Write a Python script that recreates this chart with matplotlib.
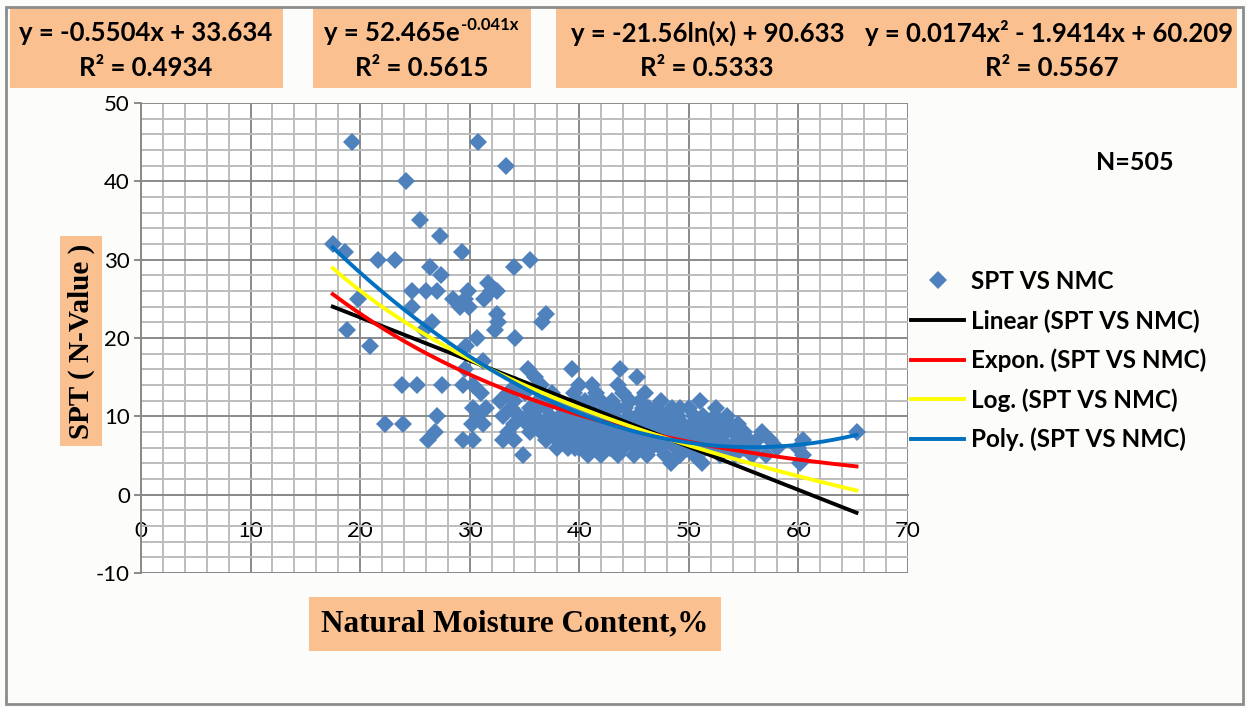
import numpy as np
import matplotlib
matplotlib.use("Agg")
import matplotlib.pyplot as plt
from matplotlib.patches import Rectangle
from matplotlib.lines import Line2D
from matplotlib.ticker import MultipleLocator

plt.rcParams["axes.unicode_minus"] = False

#### data --------------------------------------------------------------

# scattered points above the main band
nmc_out = [19.3, 30.8, 33.3, 24.2, 25.5, 27.3, 17.5, 18.6, 29.3, 21.6, 23.2, 35.5,
           34.0, 26.4, 27.4, 31.7, 32.5, 24.7, 26.0, 27.0, 29.8, 31.9, 19.8, 28.5,
           29.6, 31.3, 24.7, 29.1, 29.9, 37.0, 32.5, 36.6, 26.6, 32.6, 18.8, 25.8,
           32.3, 34.1, 30.7, 20.9, 29.7, 31.2, 29.6, 35.3, 39.3, 43.7, 45.3, 36.0]
spt_out = [45, 45, 42, 40, 35, 33, 32, 31, 31, 30, 30, 30,
           29, 29, 28, 27, 26, 26, 26, 26, 26, 26, 25, 25,
           25, 25, 24, 24, 24, 23, 23, 22, 22, 22, 21, 21,
           21, 20, 20, 19, 19, 17, 16, 16, 16, 16, 15, 15]

# main band, one list of moisture values per N-value
band = {
    14: [23.8, 25.2, 27.5, 29.4, 30.3, 34.2, 36.5, 40.0, 41.2, 43.5],
    13: [31.0, 33.5, 35.0, 37.5, 39.5, 41.5, 44.0, 46.0],
    12: [32.8, 34.0, 36.2, 38.0, 39.8, 40.5, 42.0, 43.0, 45.5, 47.5, 51.0],
    11: [30.3, 31.5, 33.8, 35.5, 37.0, 38.5, 40.2, 41.0, 42.5, 44.2, 45.8, 47.0, 48.5, 50.0, 52.5],
    10: [27.0, 30.8, 33.0, 34.5, 36.0, 37.3, 38.2, 39.0, 40.8, 41.8, 43.2, 44.5, 46.5, 47.8,
         49.0, 50.5, 52.4, 53.5],
    9: [22.3, 23.9, 30.2, 31.2, 34.0, 35.2, 36.8, 37.8, 38.8, 39.5, 40.5, 41.5, 42.8, 44.0,
        45.2, 46.0, 47.2, 48.2, 49.5, 51.0, 52.0, 53.2, 54.5],
    8: [26.8, 33.5, 35.5, 36.5, 37.5, 38.5, 39.2, 40.0, 41.0, 42.0, 43.0, 44.8, 45.5, 46.8,
        48.0, 49.0, 50.2, 51.5, 52.8, 54.0, 55.0, 56.7, 65.3],
    7: [26.2, 29.4, 30.3, 33.0, 34.0, 37.0, 38.0, 39.5, 40.5, 41.5, 42.5, 43.5, 44.5, 46.0,
        47.0, 48.5, 49.8, 50.8, 52.0, 53.0, 54.5, 55.5, 57.4, 60.4],
    6: [38.0, 39.0, 40.0, 41.2, 42.2, 43.2, 44.0, 45.2, 46.5, 47.5, 48.8, 50.0, 51.5, 52.5,
        53.8, 55.0, 56.0, 58.0, 60.0],
    5: [34.9, 40.8, 42.0, 43.5, 45.0, 46.2, 47.8, 49.2, 50.5, 52.8, 54.2, 55.8, 57.0, 60.4],
    4: [48.4, 51.2, 60.1],
}

# extra overlapping points inside the solid part of the band
band_fill = {
    12: [37.0, 41.2, 44.6],
    11: [36.2, 39.4, 43.4, 46.4, 49.2],
    10: [35.2, 39.8, 42.5, 45.3, 48.4, 51.3],
    9: [36.3, 41.0, 43.4, 46.6, 50.3, 53.8],
    8: [37.0, 41.5, 44.0, 47.4, 50.8, 53.4],
    7: [38.8, 41.0, 45.2, 48.0, 51.4, 56.2],
    6: [39.6, 42.8, 46.0, 49.4, 54.4],
}

nmc = list(nmc_out)
spt = list(spt_out)
for rows in (band, band_fill):
    for n_val, xs in rows.items():
        nmc += xs
        spt += [n_val] * len(xs)
nmc = np.array(nmc)
spt = np.array(spt)

# excel trendline coefficients
lin_a, lin_b = -0.5504, 33.634
exp_a, exp_b = 52.465, -0.041
log_a, log_b = -21.56, 90.633
pol_a, pol_b, pol_c = 0.0174, -1.9414, 60.209

eq_texts = ["y = -0.5504x + 33.634", "y = 52.465e", "y = -21.56ln(x) + 90.633",
            "y = 0.0174x\u00b2 - 1.9414x + 60.209"]
r2_texts = ["R\u00b2 = 0.4934", "R\u00b2 = 0.5615", "R\u00b2 = 0.5333", "R\u00b2 = 0.5567"]

#### figure -------------------------------------------------------------

W, H = 1247, 708
bg = "#FCFCFA"
orange = "#FAC090"
sans = ["Lato", "DejaVu Sans"]
serif = ["Liberation Serif", "DejaVu Serif"]

fig = plt.figure(figsize=(W / 100, H / 100), dpi=100, facecolor=bg)


def px(x, y):
    # pixel coords (from top-left) -> figure fraction
    return x / W, 1 - y / H


# outer frame
fig.patches.append(Rectangle(px(6, 704), 1237 / W, 697 / H, transform=fig.transFigure,
                             facecolor="none", edgecolor="#8C8C8C", lw=2))

ax = fig.add_axes([141 / W, 1 - 573 / H, (908 - 141) / W, (573 - 103) / H])
ax.set_facecolor("white")
ax.set_xlim(0, 70)
ax.set_ylim(-10, 50)

ax.xaxis.set_major_locator(MultipleLocator(10))
ax.xaxis.set_minor_locator(MultipleLocator(2))
ax.yaxis.set_major_locator(MultipleLocator(10))
ax.yaxis.set_minor_locator(MultipleLocator(2))
ax.grid(which="minor", color="#BDBDBD", lw=1.4, zorder=0)
ax.grid(which="major", color="#8A8A8A", lw=1.4, zorder=0)
ax.set_axisbelow(True)

for s in ["top", "right"]:
    ax.spines[s].set_visible(False)
ax.spines["left"].set_color("#8A8A8A")
ax.spines["left"].set_linewidth(1.4)
ax.spines["bottom"].set_position(("data", 0))
ax.spines["bottom"].set_color("#8A8A8A")
ax.spines["bottom"].set_linewidth(1.4)
ax.axhline(-10, color="#8A8A8A", lw=1.4, zorder=0)

ax.tick_params(axis="x", which="both", length=0, pad=19, labelsize=16)
ax.tick_params(axis="y", which="major", length=5, color="#8A8A8A", width=1.4, pad=3, labelsize=16)
ax.tick_params(axis="y", which="minor", length=0)
for lab in ax.get_xticklabels() + ax.get_yticklabels():
    lab.set_family(sans)

# scatter
ax.plot(nmc, spt, linestyle="none", marker="D", ms=9.5, color="#4F81BD",
        markeredgewidth=0, zorder=3, clip_on=False)

# trendlines
xx = np.linspace(nmc.min(), nmc.max(), 300)
lw_tr = 2.8
ax.plot(xx, lin_a * xx + lin_b, color="black", lw=lw_tr, zorder=4)
ax.plot(xx, exp_a * np.exp(exp_b * xx), color="#FF0000", lw=lw_tr, zorder=4)
ax.plot(xx, log_a * np.log(xx) + log_b, color="#FFFF00", lw=lw_tr, zorder=4)
ax.plot(xx, pol_a * xx ** 2 + pol_b * xx + pol_c, color="#0070C0", lw=lw_tr, zorder=4)

# equation boxes on top
for x0, x1 in [(10, 283), (313, 531), (556, 1237)]:
    fig.patches.append(Rectangle(px(x0, 88), (x1 - x0) / W, 80 / H, transform=fig.transFigure,
                                 facecolor=orange, edgecolor="none", zorder=0))

eq_x = [146, 392, 708, 1049]
r2_x = [146, 422, 707, 1052]
eq_objs = []
for i in range(4):
    t = fig.text(*px(eq_x[i], 33), eq_texts[i], ha="center", va="center",
                 fontsize=18.5, fontweight="bold", family=sans)
    eq_objs.append(t)
    fig.text(*px(r2_x[i], 68), r2_texts[i], ha="center", va="center",
             fontsize=18.5, fontweight="bold", family=sans)

# superscript of the exponential equation
fig.canvas.draw()
bb = eq_objs[1].get_window_extent()
fig.text(bb.x1 / W + 0.001, px(0, 25)[1], "-0.041x", ha="left", va="center",
         fontsize=12, fontweight="bold", family=sans)

# axis titles with orange boxes
fig.text(*px(81, 341), "SPT ( N-Value )", rotation=90, ha="center", va="center",
         fontsize=21, fontweight="bold", family=serif,
         bbox=dict(boxstyle="square,pad=0.25", facecolor=orange, edgecolor="none"))
fig.text(*px(515, 624), "Natural Moisture Content,%", ha="center", va="center",
         fontsize=22.5, fontweight="bold", family=serif,
         bbox=dict(boxstyle="square,pad=0.4", facecolor=orange, edgecolor="none"))

fig.text(*px(1135, 162), "N=505", ha="center", va="center",
         fontsize=18, fontweight="bold", family=sans)

# legend
handles = [
    Line2D([], [], linestyle="none", marker="D", ms=9, color="#4F81BD", markeredgewidth=0),
    Line2D([], [], color="black", lw=lw_tr),
    Line2D([], [], color="#FF0000", lw=lw_tr),
    Line2D([], [], color="#FFFF00", lw=lw_tr),
    Line2D([], [], color="#0070C0", lw=lw_tr),
]
labels = ["SPT VS NMC", "Linear (SPT VS NMC)", "Expon. (SPT VS NMC)",
          "Log. (SPT VS NMC)", "Poly. (SPT VS NMC)"]
fig.legend(handles, labels, loc="upper left", bbox_to_anchor=px(911, 270),
           frameon=False, handlelength=2.2, handletextpad=0.25, labelspacing=0.66,
           borderaxespad=0, borderpad=0,
           prop={"family": sans, "weight": "bold", "size": 17.5})

fig.savefig("out.png", dpi=100, facecolor=bg)
